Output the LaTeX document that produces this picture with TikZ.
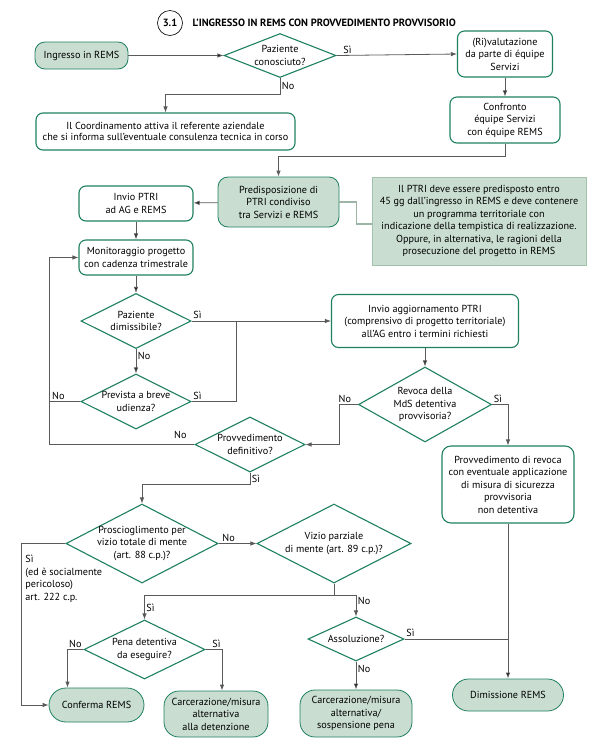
\documentclass[tikz,border=0pt]{standalone}
\usepackage{fontspec}
\setmainfont{PT Sans}
\usetikzlibrary{arrows.meta,shapes.geometric,positioning}
\definecolor{vdeep}{HTML}{1E8060}
\definecolor{vfill}{HTML}{C9DDD1}
\definecolor{vnote}{HTML}{A3C2AE}
\definecolor{vline}{HTML}{5A5A5A}

\begin{document}
\begin{tikzpicture}[x=1pt,y=-1pt,->,>={Latex[length=6pt,width=4.5pt]},
	font=\fontsize{10.2}{12.5}\selectfont]
	\tikzstyle{every node}=[align=center]
	\tikzstyle{box}=[draw=vdeep,line width=1.1pt,rounded corners=7pt,inner sep=2pt]
	\tikzstyle{term}=[draw=vdeep,line width=0.8pt,fill=vfill,rounded corners=10pt,inner sep=2pt]
	\tikzstyle{ask}=[diamond,draw=vdeep,line width=1.1pt,inner sep=-3pt,aspect=2]
	\tikzstyle{lbl}=[inner sep=1.5pt]
	\tikzstyle{con}=[draw=vline,line width=0.8pt]
	\useasboundingbox (0,0) rectangle (615,748);

	% title
	\node[circle,draw=black,line width=0.6pt,minimum size=25pt,inner sep=0pt,
		font=\bfseries\fontsize{10.5}{12}\selectfont] (t) at (170,23) {3.1};
	\node[anchor=west,font=\bfseries\fontsize{10.5}{12}\selectfont] (tt) at (189,23)
		{L’INGRESSO IN REMS CON PROVVEDIMENTO PROVVISORIO};

	% boxes and decisions
	\node[term,minimum width=93pt,minimum height=27pt] (s) at (81.5,55.5) {Ingresso in REMS};
	\node[ask,aspect=2.55,minimum width=112pt,minimum height=44pt] (0) at (280,55.5) {Paziente\\conosciuto?};
	\node[box,minimum width=95pt,minimum height=46pt] (1) at (505,54) {(Ri)valutazione\\da parte di équipe\\Servizi};
	\node[box,minimum width=110pt,minimum height=46pt] (2) at (505,120) {Confronto\\équipe Servizi\\con équipe REMS};
	\node[box,minimum width=259pt,minimum height=37pt,font=\fontsize{10.2}{11.3}\selectfont] (3) at (165.5,131.5)
		{Il Coordinamento attiva il referente aziendale\\che si informa sull’eventuale consulenza tecnica in corso};
	\node[term,minimum width=121pt,minimum height=50pt] (4) at (278.5,202) {Predisposizione di\\PTRI condiviso\\tra Servizi e REMS};
	\node[draw=vnote,fill=vfill,line width=1pt,minimum width=214pt,minimum height=88pt] (n) at (479,221)
		{Il PTRI deve essere predisposto entro\\45 gg dall’ingresso in REMS e deve contenere\\un programma territoriale con\\indicazione della tempistica di realizzazione.\\Oppure, in alternativa, le ragioni della\\prosecuzione del progetto in REMS};
	\node[box,minimum width=114pt,minimum height=35pt] (5) at (136,203.5) {Invio PTRI\\ad AG e REMS};
	\node[box,minimum width=114pt,minimum height=35pt] (6) at (136,257.5) {Monitoraggio progetto\\con cadenza trimestrale};
	\node[ask,minimum width=110pt,minimum height=55pt] (7) at (136,321) {Paziente\\dimissibile?};
	\node[ask,minimum width=110pt,minimum height=55pt] (8) at (136,401.5) {Prevista a breve\\udienza?};
	\node[box,minimum width=187pt,minimum height=53pt] (9) at (425,321)
		{Invio aggiornamento PTRI\\(comprensivo di progetto territoriale)\\all’AG entro i termini richiesti};
	\node[ask,aspect=1.77,minimum width=133pt,minimum height=75pt] (10) at (425,404.5) {Revoca della\\MdS detentiva\\provvisoria?};
	\node[ask,minimum width=110pt,minimum height=55pt] (11) at (250,444.5) {Provvedimento\\definitivo?};
	\node[box,minimum width=132pt,minimum height=77pt,rounded corners=9pt] (12) at (508,484.5)
		{Provvedimento di revoca\\con eventuale applicazione\\di misura di sicurezza\\provvisoria\\non detentiva};
	\node[ask,aspect=1.92,minimum width=152pt,minimum height=79pt] (13) at (142,543.5) {Proscioglimento per\\vizio totale di mente\\(art. 88 c.p.)?};
	\node[ask,aspect=1.95,minimum width=154pt,minimum height=79pt] (14) at (334,543.5) {Vizio parziale\\di mente (art. 89 c.p.)?};
	\node[ask,aspect=2.05,minimum width=121pt,minimum height=59pt] (15) at (144.5,649.5) {Pena detentiva\\da eseguire?};
	\node[ask,aspect=2.18,minimum width=96pt,minimum height=44pt] (16) at (356,639) {Assoluzione?};
	\node[term,minimum width=95pt,minimum height=34pt,rounded corners=17pt] (17) at (96.5,705) {Conferma REMS};
	\node[term,minimum width=104pt,minimum height=46pt,rounded corners=15pt] (18) at (216,714)
		{Carcerazione/misura\\alternativa\\alla detenzione};
	\node[term,minimum width=112pt,minimum height=47pt,rounded corners=15pt] (19) at (356,713.5)
		{Carcerazione/misura\\alternativa/\\sospensione pena};
	\node[term,minimum width=111pt,minimum height=32pt,rounded corners=16pt] (20) at (508,695) {Dimissione REMS};

	\coordinate (j) at (236,321);
	\coordinate (l) at (49,444.5);

	% straight connectors
	\path[con]
	(s) edge (0)
	(1) edge (2)
	(4) edge (5)
	(5) edge (6)
	(6) edge (7)
	(7) edge node[lbl,right,pos=0.3] {No} (8)
	(9) edge (10)
	(12) edge (20)
	(16) edge node[lbl,right,pos=0.25] {No} (19)
	;

	% elbow connectors
	\draw[con] (0.east) node[lbl,above right,xshift=5pt] {Sì} -- (1.west);
	\draw[con] (0.south) -- node[lbl,right] {No} ++(0,16) -| (3.north);
	\draw[con] (2.south) -- ++(0,13) -| (4.north);
	\draw[-,draw=vnote!80!gray,line width=1.3pt] (4.east) -- ++(17,0) |- ([yshift=-3pt]n.west);
	\draw[con] (7.east) node[lbl,above right] {Sì} -- (9.west);
	\draw[con,-] (8.east) node[lbl,above right] {Sì} -| (j);
	\draw[con,-] (8.west) node[lbl,above left,xshift=-14pt] {No} -- (8.west -| l);
	\draw[con] (11.west) node[lbl,above left,xshift=-6pt,yshift=4pt] {No} -- (l) |- (6.west);
	\draw[con] (10.west) node[lbl,above left,xshift=-5pt] {No} -- ++(-19,0) |- (11.east);
	\draw[con] (10.east) node[lbl,above right] {Sì} -| (12.north);
	\draw[con] (11.south) -- node[lbl,right] {Sì} ++(0,12) -| (13.north);
	\draw[con] (13.east) node[lbl,above right,xshift=2pt] {No} -- (14.west);
	\draw[con] (13.west) -- ++(-44,0) node[lbl,below right,align=left,yshift=-10pt,xshift=2pt]
		{Sì\\(ed è socialmente\\pericoloso)\\art. 222 c.p.} |- (17.west);
	\draw[con] (14.south) -- ++(0,12) -| node[lbl,pos=0.75,right] {Sì} (15.north);
	\draw[con] (14.south) -- ++(0,12) -| node[lbl,pos=0.62,right] {No} (16.north);
	\draw[con] (15.west) node[lbl,above left] {No} -| ([xshift=-29pt]17.north);
	\draw[con] (15.east) node[lbl,above right,xshift=5pt] {Sì} -| ([xshift=6pt]18.north);
	\draw[con,-] (16.east) node[lbl,above right] {Sì} -- (16.east -| 12.south);
\end{tikzpicture}
\end{document}
